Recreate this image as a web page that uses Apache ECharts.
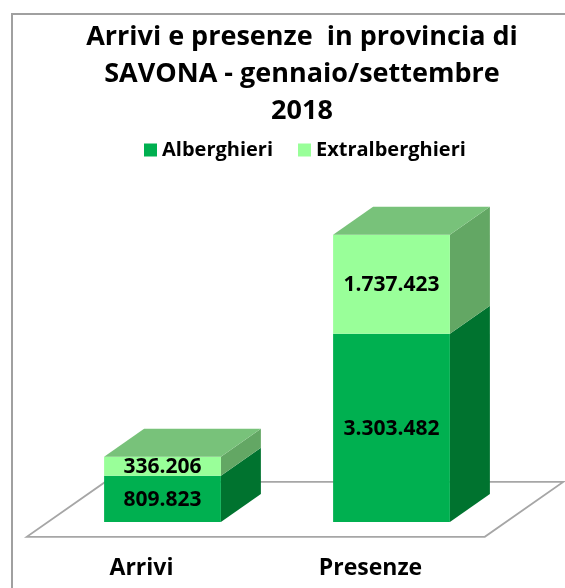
<!DOCTYPE html>
<html>
<head>
<meta charset="utf-8">
<script src="https://cdn.jsdelivr.net/npm/echarts@6/dist/echarts.min.js"></script>
<style>
html,body{margin:0;padding:0;background:#fff;}
#chart{width:565px;height:588px;}
</style>
</head>
<body>
<div id="chart"></div>
<script>
var categories = ['Arrivi', 'Presenze'];
var alberghieri = [809823, 3303482];
var extralberghieri = [336206, 1737423];
var seriesNames = ['Alberghieri', 'Extralberghieri'];
var titleText = 'Arrivi e presenze  in provincia di\nSAVONA - gennaio/settembre\n2018';

var FONT = '"Open Sans"';
var DX = 40, DY = -28;           // bar depth vector
var colors = {
  alb: {front: '#00b050', side: '#00732f', top: '#5fae6a'},
  ext: {front: '#99ff99', side: '#63a764', top: '#78c27a'}
};

function fmt(v) {
  return String(v).replace(/\B(?=(\d{3})+(?!\d))/g, '.');
}

function boxRenderer(c, drawTop) {
  return function (params, api) {
    var ci = api.value(0);
    var pBase = api.coord([ci, api.value(1)]);
    var pTop = api.coord([ci, api.value(2)]);
    var bw = api.size([1, 0])[0] * 0.51;
    var x0 = pBase[0] - bw / 2, x1 = pBase[0] + bw / 2;
    var yb = pBase[1], yt = pTop[1];
    var children = [
      {type: 'polygon', shape: {points: [[x1, yb], [x1 + DX, yb + DY], [x1 + DX, yt + DY], [x1, yt]]},
       style: {fill: c.side}},
      {type: 'rect', shape: {x: x0, y: yt, width: bw, height: yb - yt}, style: {fill: c.front}}
    ];
    if (drawTop) {
      children.push({type: 'polygon', shape: {points: [[x0, yt], [x1, yt], [x1 + DX, yt + DY], [x0 + DX, yt + DY]]},
        style: {fill: c.top}});
    }
    children.push({type: 'text', x: (x0 + x1) / 2, y: (yb + yt) / 2 + 1,
      style: {text: fmt(api.value(3)), align: 'center', verticalAlign: 'middle',
        font: 'bold 21px ' + FONT, fill: '#000'}});
    return {type: 'group', children: children};
  };
}

var albData = categories.map(function (c, i) { return [i, 0, alberghieri[i], alberghieri[i]]; });
var extData = categories.map(function (c, i) {
  return [i, alberghieri[i], alberghieri[i] + extralberghieri[i], extralberghieri[i]];
});

var chart = echarts.init(document.getElementById('chart'), null, {renderer: 'canvas'});
chart.setOption({
  animation: false,
  backgroundColor: '#fff',
  graphic: [{
    type: 'rect', z: -10, silent: true,
    shape: {x: 12, y: 14, width: 640, height: 640},
    style: {fill: 'none', stroke: '#a0a0a0', lineWidth: 2}
  }],
  title: {
    text: titleText,
    left: 302, top: 19, padding: 0, textAlign: 'center',
    textStyle: {fontFamily: FONT, fontWeight: 'bold', fontSize: 27, lineHeight: 37, color: '#000'}
  },
  legend: {
    data: seriesNames,
    left: 144, top: 140, padding: 0,
    icon: 'rect', itemWidth: 13, itemHeight: 13, itemGap: 25,
    textStyle: {fontFamily: FONT, fontWeight: 'bold', fontSize: 20, color: '#000'}
  },
  grid: {left: 48, right: 59, top: 180, bottom: 66},
  xAxis: {
    type: 'category', data: categories,
    axisLine: {show: false}, axisTick: {show: false}, splitLine: {show: false},
    axisLabel: {fontFamily: FONT, fontWeight: 'bold', fontSize: 23, color: '#000',
      margin: 35, padding: [0, 42, 0, 0]}
  },
  yAxis: {type: 'value', min: 0, max: 6000000, show: false, splitLine: {show: false}},
  series: [
    {
      type: 'custom', name: 'floor', silent: true, z: 1,
      data: [[0, 0]],
      renderItem: function (params, api) {
        var cs = params.coordSys;
        var L = cs.x, R = cs.x + cs.width, B = api.coord([0, 0])[1];
        var f = -0.53, b = 1.43;
        return {type: 'polygon',
          shape: {points: [[L + DX * f, B + DY * f], [R + DX * f, B + DY * f], [R + DX * b, B + DY * b], [L + DX * b, B + DY * b]]},
          style: {fill: '#fff', stroke: '#a6a6a6', lineWidth: 1.8}};
      }
    },
    {
      type: 'custom', name: seriesNames[0], z: 2,
      itemStyle: {color: colors.alb.front},
      encode: {x: 0, y: [1, 2]},
      data: albData,
      renderItem: boxRenderer(colors.alb, false)
    },
    {
      type: 'custom', name: seriesNames[1], z: 3,
      itemStyle: {color: colors.ext.front},
      encode: {x: 0, y: [1, 2]},
      data: extData,
      renderItem: boxRenderer(colors.ext, true)
    }
  ]
});
</script>
</body>
</html>
